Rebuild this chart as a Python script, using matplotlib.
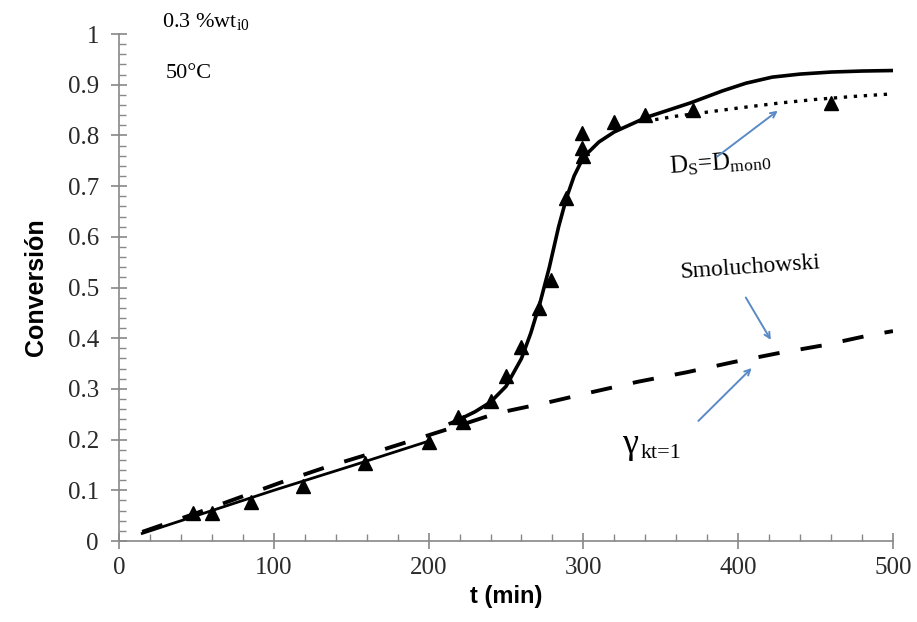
import matplotlib.pyplot as plt
from matplotlib.ticker import MultipleLocator

# --- data ---
exp_t = [48, 60, 85, 119, 159, 200, 219, 222, 240, 250, 260, 271, 279, 289, 299, 299, 300, 320, 340, 371, 460]
exp_x = [0.055, 0.055, 0.077, 0.108, 0.153, 0.196, 0.245, 0.235, 0.277, 0.325, 0.382, 0.46, 0.515, 0.676, 0.805, 0.775, 0.76, 0.826, 0.84, 0.85, 0.864]

# full model (solid), two pieces
model1_t = [15, 50, 100, 150, 200]
model1_x = [0.015, 0.05, 0.1, 0.148, 0.197]
model2_t = [214, 220, 230, 240, 250, 260, 266, 272, 278, 284, 289, 294, 300, 310, 320, 341, 369, 390, 405, 422, 440, 460, 480, 500]
model2_x = [0.232, 0.24, 0.255, 0.274, 0.305, 0.36, 0.41, 0.47, 0.54, 0.62, 0.676, 0.72, 0.757, 0.787, 0.807, 0.836, 0.864, 0.888, 0.903, 0.915, 0.921, 0.925, 0.927, 0.928]

# Ds = Dmon0 (dotted)
ds_t = [340, 360, 380, 400, 427, 450, 475, 500]
ds_x = [0.828, 0.838, 0.846, 0.854, 0.864, 0.871, 0.877, 0.882]

# Smoluchowski / gamma_kt=1 (dashed)
smol_t = [15, 50, 105, 134, 162, 191, 220, 244, 278, 306, 335, 367, 397, 425, 455, 485, 500]
smol_x = [0.018, 0.055, 0.116, 0.146, 0.172, 0.2, 0.228, 0.252, 0.274, 0.294, 0.314, 0.333, 0.353, 0.37, 0.386, 0.406, 0.414]

ARROW = '#5a8ac6'
AXIS = '#888888'

plt.rcParams['mathtext.fontset'] = 'custom'
plt.rcParams['mathtext.rm'] = 'Liberation Serif'
plt.rcParams['mathtext.it'] = 'Liberation Serif:italic'

fig = plt.figure(figsize=(9.17, 6.22), dpi=100)
ax = fig.add_axes([0.1298, 0.1302, 0.844, 0.8151])

ax.plot(model1_t, model1_x, color='black', linewidth=2.0)
ax.plot(model2_t, model2_x, color='black', linewidth=2.6)
ax.plot(ds_t, ds_x, color='black', linewidth=2.4, linestyle=(0, (1, 2)))
ax.plot(smol_t, smol_x, color='black', linewidth=2.8, linestyle=(0, (5.5, 5.5)))
ax.plot(exp_t, exp_x, linestyle='none', marker='^', markersize=10, color='black')

ax.set_xlim(0, 500)
ax.set_ylim(0, 1)
ax.xaxis.set_major_locator(MultipleLocator(100))
ax.xaxis.set_minor_locator(MultipleLocator(20))
ax.yaxis.set_minor_locator(MultipleLocator(0.02))
ax.set_yticks([i / 10 for i in range(11)])
ax.set_yticklabels(['0', '0.1', '0.2', '0.3', '0.4', '0.5', '0.6', '0.7', '0.8', '0.9', '1'])

for side in ['top', 'right']:
    ax.spines[side].set_visible(False)
for side in ['left', 'bottom']:
    ax.spines[side].set_color(AXIS)
    ax.spines[side].set_linewidth(1.2)

ax.tick_params(which='major', direction='inout', length=11, width=1.2, color=AXIS,
               labelsize=18, pad=6)
ax.tick_params(which='minor', direction='in', length=5, width=1.0, color=AXIS)
ax.tick_params(axis='y', which='major', pad=9)
for lab in ax.get_xticklabels() + ax.get_yticklabels():
    lab.set_fontfamily('Liberation Serif')
    lab.set_color('#2a2a2a')

ax.set_xlabel('t (min)', fontfamily='Liberation Sans', fontweight='bold', fontsize=17, labelpad=4)
ax.set_ylabel('Conversión', fontfamily='Liberation Sans', fontweight='bold', fontsize=18, labelpad=14)

# text annotations
ax.text(28, 1.025, '0.3 %wt$_{\\mathrm{i0}}$', fontfamily='Liberation Serif', fontsize=16,
        va='center', ha='left', clip_on=False)
ax.text(30, 0.923, '50°C', fontfamily='Liberation Serif', fontsize=16, va='center', ha='left')

ax.text(355, 0.745, 'D$_{\\mathrm{S}}$=D$_{\\mathrm{mon0}}$', fontfamily='Liberation Serif',
        fontsize=18, va='center', ha='left', rotation=4)
ax.annotate('', xy=(427, 0.852), xytext=(385, 0.755),
            arrowprops=dict(arrowstyle='->', color=ARROW, lw=1.4))

ax.text(362, 0.54, 'Smoluchowski', fontfamily='Liberation Serif', fontsize=17,
        va='center', ha='left', rotation=4)
ax.annotate('', xy=(422, 0.392), xytext=(404, 0.485),
            arrowprops=dict(arrowstyle='->', color=ARROW, lw=1.4))

# gamma_kt=1 label: symbol plus a lowered subscript
ax.text(325, 0.19, 'γ', fontfamily='Liberation Serif', fontsize=26, va='center', ha='left')
ax.annotate('kt=1', xy=(325, 0.19), xytext=(13, -6), textcoords='offset points',
            fontfamily='Liberation Serif', fontsize=16, va='center', ha='left')
ax.annotate('', xy=(410, 0.345), xytext=(373, 0.233),
            arrowprops=dict(arrowstyle='->', color=ARROW, lw=1.4))

fig.savefig('out.png', dpi=100)
